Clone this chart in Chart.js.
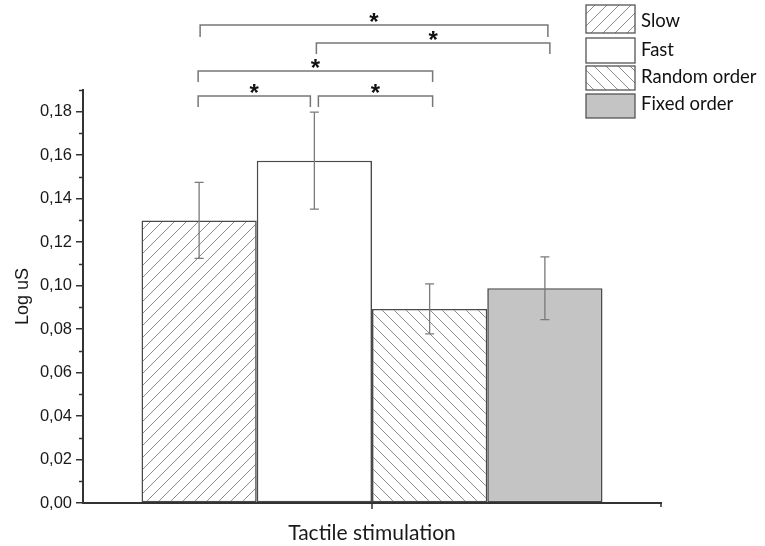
<!DOCTYPE html>
<html>
<head>
<meta charset="utf-8">
<script src="https://cdn.jsdelivr.net/npm/chart.js@4/dist/chart.umd.min.js"></script>
<style>
  html, body { margin: 0; padding: 0; background: #ffffff; }
  #wrap { width: 765px; height: 546px; }
</style>
</head>
<body>
<div id="wrap"><canvas id="c" width="765" height="546"></canvas></div>
<script>
// Group label on the x axis and the four conditions
const categories = [''];
const xAxisTitle = 'Tactile stimulation';
const yAxisTitle = 'Log uS';
const seriesNames = ['Slow', 'Fast', 'Random order', 'Fixed order'];

// Mean Log uS per condition and its error (half-length of the error bar)
const means = [0.130, 0.1575, 0.0893, 0.0988];
const errors = [0.0175, 0.0223, 0.0115, 0.0144];

// Y axis range and tick spacing
const yMin = 0;
const yMax = 0.19;
const yStep = 0.02;
const yMinorStep = 0.01;

// Significant pairwise comparisons (indices into seriesNames)
const comparisonFrom = [0, 1, 0, 0, 1];
const comparisonTo = [3, 3, 2, 1, 2];
const comparisonMark = ['*', '*', '*', '*', '*'];

// ---- drawing setup ----
const FONT_SANS = '"Liberation Sans", Arial, sans-serif';
const FONT_HUM = 'Lato, "Open Sans", sans-serif';
const AXIS_COLOR = '#333333';
const BAR_EDGE = '#4a4a4a';
const HATCH = '#8c8c8c';

function hatch(direction) {
  const s = 12;
  const cv = document.createElement('canvas');
  cv.width = s; cv.height = s;
  const g = cv.getContext('2d');
  g.fillStyle = '#ffffff';
  g.fillRect(0, 0, s, s);
  g.strokeStyle = HATCH;
  g.lineWidth = 1;
  g.beginPath();
  if (direction === '/') {
    g.moveTo(-1, s + 1); g.lineTo(s + 1, -1);
    g.moveTo(-1, 1); g.lineTo(1, -1);
    g.moveTo(s - 1, s + 1); g.lineTo(s + 1, s - 1);
  } else {
    g.moveTo(-1, -1); g.lineTo(s + 1, s + 1);
    g.moveTo(s - 1, -1); g.lineTo(s + 1, 1);
    g.moveTo(-1, s - 1); g.lineTo(1, s + 1);
  }
  g.stroke();
  return g.createPattern(cv, 'repeat');
}

const fills = [hatch('/'), '#ffffff', hatch('\\'), '#c4c4c4'];

const datasets = seriesNames.map((name, i) => ({
  label: name,
  data: [means[i]],
  backgroundColor: fills[i],
  borderColor: BAR_EDGE,
  borderWidth: 1.6,
  borderSkipped: false,
  categoryPercentage: 0.7976,
  barPercentage: 1.0
}));

// Bracket layout (canvas y of each bracket's bar, drop length, end offsets)
const bracketY = [25, 43, 71, 96, 96];
const bracketDrop = [12, 11, 11, 11, 11];
const bracketFromOffset = [1, 2, -1, -1, 4];
const bracketToOffset = [3, 5, 3, -4, 3];

const decorations = {
  id: 'decorations',
  afterDatasetsDraw(chart) {
    const ctx = chart.ctx;
    const ys = chart.scales.y;
    const xs = chart.scales.x;
    const area = chart.chartArea;
    const centers = seriesNames.map((_, i) => chart.getDatasetMeta(i).data[0].x);

    // error bars
    ctx.save();
    ctx.strokeStyle = '#7a7a7a';
    ctx.lineWidth = 1.3;
    means.forEach((m, i) => {
      const x = centers[i];
      const top = ys.getPixelForValue(m + errors[i]);
      const bot = ys.getPixelForValue(m - errors[i]);
      ctx.beginPath();
      ctx.moveTo(x, top); ctx.lineTo(x, bot);
      ctx.moveTo(x - 4.5, top); ctx.lineTo(x + 4.5, top);
      ctx.moveTo(x - 4.5, bot); ctx.lineTo(x + 4.5, bot);
      ctx.stroke();
    });
    ctx.restore();

    // minor ticks on the y axis
    ctx.save();
    ctx.strokeStyle = AXIS_COLOR;
    ctx.lineWidth = 1.5;
    ctx.beginPath();
    for (let v = yMin + yMinorStep; v <= yMax + 1e-9; v += yStep) {
      const py = Math.round(ys.getPixelForValue(v)) + 0.5;
      ctx.moveTo(area.left, py); ctx.lineTo(area.left - 4, py);
    }
    // x axis ticks: group centre and right end
    const cx = xs.getPixelForValue(0);
    ctx.moveTo(cx, area.bottom); ctx.lineTo(cx, area.bottom + 6);
    ctx.moveTo(area.right, area.bottom); ctx.lineTo(area.right, area.bottom + 4);
    ctx.stroke();
    ctx.restore();

    // significance brackets
    ctx.save();
    ctx.strokeStyle = '#777777';
    ctx.lineWidth = 1.5;
    ctx.fillStyle = '#111111';
    ctx.font = 'bold 24px ' + FONT_SANS;
    ctx.textAlign = 'center';
    comparisonFrom.forEach((a, k) => {
      const b = comparisonTo[k];
      const x1 = centers[a] + bracketFromOffset[k];
      const x2 = centers[b] + bracketToOffset[k];
      const y = bracketY[k];
      ctx.beginPath();
      ctx.moveTo(x1, y + bracketDrop[k]);
      ctx.lineTo(x1, y);
      ctx.lineTo(x2, y);
      ctx.lineTo(x2, y + bracketDrop[k]);
      ctx.stroke();
      const m = ctx.measureText(comparisonMark[k]);
      const cy = y - 8;
      const base = cy + (m.actualBoundingBoxAscent - m.actualBoundingBoxDescent) / 2;
      ctx.textBaseline = 'alphabetic';
      ctx.fillText(comparisonMark[k], (x1 + x2) / 2, base);
    });
    ctx.restore();

    // legend
    ctx.save();
    const boxLeft = 586, boxW = 49;
    const boxTop = [5, 38, 66, 94];
    const boxH = [28, 25, 24, 24];
    const textY = [21, 50, 77, 104];
    ctx.font = '18.5px ' + FONT_HUM;
    ctx.textBaseline = 'middle';
    ctx.textAlign = 'left';
    seriesNames.forEach((name, i) => {
      ctx.fillStyle = fills[i];
      ctx.fillRect(boxLeft, boxTop[i], boxW, boxH[i]);
      ctx.strokeStyle = '#555555';
      ctx.lineWidth = 1.3;
      ctx.strokeRect(boxLeft, boxTop[i], boxW, boxH[i]);
      ctx.fillStyle = '#111111';
      ctx.fillText(name, 641, textY[i]);
    });
    ctx.restore();
  }
};

new Chart(document.getElementById('c'), {
  type: 'bar',
  data: { labels: categories, datasets: datasets },
  options: {
    responsive: false,
    animation: false,
    devicePixelRatio: 1,
    layout: { padding: { top: 90, right: 104, left: 0, bottom: 0 } },
    plugins: { legend: { display: false }, tooltip: { enabled: false } },
    scales: {
      x: {
        offset: true,
        grid: { display: false },
        border: { display: true, color: AXIS_COLOR, width: 2 },
        ticks: { display: false },
        title: {
          display: true, text: xAxisTitle, color: '#1a1a1a',
          font: { family: FONT_HUM, size: 21, lineHeight: 1.2 },
          padding: { top: 0, bottom: 0 }
        },
        afterFit(s) { s.height = 43; }
      },
      y: {
        min: yMin, max: yMax,
        ticks: {
          stepSize: yStep, includeBounds: false, padding: 4, color: '#1a1a1a',
          font: { family: FONT_SANS, size: 16.5 },
          callback: v => Number(v).toFixed(2).replace('.', ',')
        },
        grid: { drawOnChartArea: false, drawTicks: true, tickLength: 7, color: AXIS_COLOR, lineWidth: 1.5 },
        border: { display: true, color: AXIS_COLOR, width: 2 },
        title: {
          display: true, text: yAxisTitle, color: '#1a1a1a',
          font: { family: FONT_SANS, size: 18, lineHeight: 1.2 },
          padding: { top: 12, bottom: 0 }
        },
        afterFit(s) { s.width = 83; }
      }
    }
  },
  plugins: [decorations]
});
</script>
</body>
</html>
